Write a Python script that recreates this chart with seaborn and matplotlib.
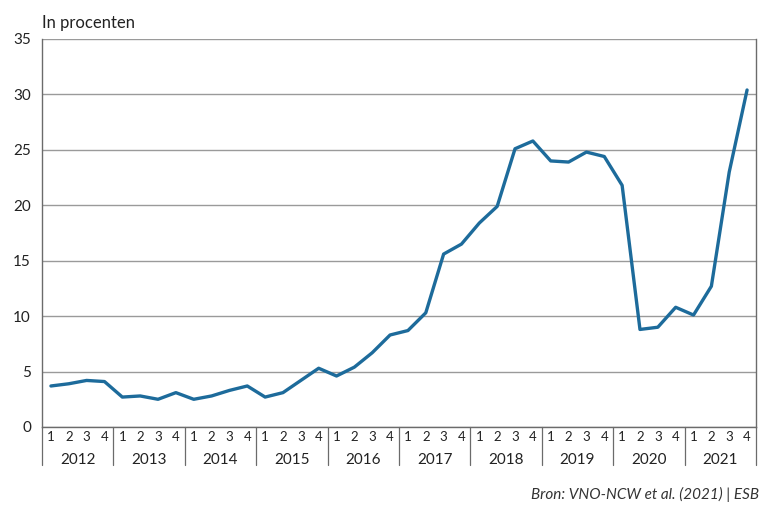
import numpy as np
import pandas as pd
import matplotlib
matplotlib.use("Agg")
from matplotlib import pyplot
import matplotlib.ticker as ticker
import seaborn as sns

# data (quarterly, 2012 Q1 .. 2021 Q4)
years = [2012, 2013, 2014, 2015, 2016, 2017, 2018, 2019, 2020, 2021]
quarters = ['1', '2', '3', '4']
values = [
	3.7, 3.9, 4.2, 4.1,
	2.7, 2.8, 2.5, 3.1,
	2.5, 2.8, 3.3, 3.7,
	2.7, 3.1, 4.2, 5.3,
	4.6, 5.4, 6.7, 8.3,
	8.7, 10.3, 15.6, 16.5,
	18.4, 19.9, 25.1, 25.8,
	24.0, 23.9, 24.8, 24.4,
	21.8, 8.8, 9.0, 10.8,
	10.1, 12.7, 23.0, 30.4,
]
yticks = [0, 5, 10, 15, 20, 25, 30, 35]

lineColor = '#1d6b9b'
gridColor = '#9a9a9a'
axisColor = '#6b6b6b'

df = pd.DataFrame({
	'idx': range(len(values)),
	'year': [y for y in years for q in quarters],
	'quarter': quarters * len(years),
	'value': values,
})

sns.set_theme(style="white")
pyplot.rcParams['font.family'] = ['Lato', 'DejaVu Sans']

fig = pyplot.figure(figsize=(7.62, 5.07), dpi=100)
ax = fig.add_axes([42/762, 1 - 427/507, (756 - 42)/762, (427 - 39)/507])

sns.lineplot(data=df, x='idx', y='value', ax=ax, color=lineColor, linewidth=2.4, zorder=3)

ax.set_xlim(-0.5, len(values) - 0.5)
ax.set_ylim(0, 35)
ax.set_yticks(yticks)
ax.set_yticklabels([str(v) for v in yticks], fontsize=11, color='#222222')
ax.yaxis.grid(True, color=gridColor, linewidth=1.0, zorder=0)
ax.xaxis.grid(False)
ax.tick_params(axis='y', length=5, width=1, color=axisColor, pad=3)

# quarter labels at the category centres, short ticks between quarters
ax.set_xticks(df['idx'])
ax.set_xticklabels(df['quarter'], fontsize=9.5, color='#222222')
ax.tick_params(axis='x', which='major', length=0, pad=3)
ax.xaxis.set_minor_locator(ticker.FixedLocator([i + 0.5 for i in range(len(values) - 1)]))
ax.tick_params(axis='x', which='minor', length=5, width=0.8, color=axisColor)
ax.set_xlabel('')
ax.set_ylabel('')

# year separators and year labels below the quarter labels
trans = ax.get_xaxis_transform()
for k in range(len(years) + 1):
	ax.plot([4*k - 0.5, 4*k - 0.5], [0, -0.098], transform=trans, color=axisColor,
			linewidth=0.9, clip_on=False)
for k, y in enumerate(years):
	ax.text(4*k + 1.5, -0.085, str(y), transform=trans, ha='center', va='center',
			fontsize=11, color='#222222')

for side in ['left', 'right', 'bottom']:
	ax.spines[side].set_color(axisColor)
	ax.spines[side].set_linewidth(1.0)
ax.spines['top'].set_visible(False)

fig.text(42/762, 1 - 23/507, 'In procenten', ha='left', va='center', fontsize=12, color='#222222')
fig.text(759/762, 1 - 494/507, 'Bron: VNO-NCW et al. (2021) | ESB', ha='right', va='center',
		 fontsize=11, style='italic', color='#333333')

pyplot.savefig('out.png', dpi=100)
